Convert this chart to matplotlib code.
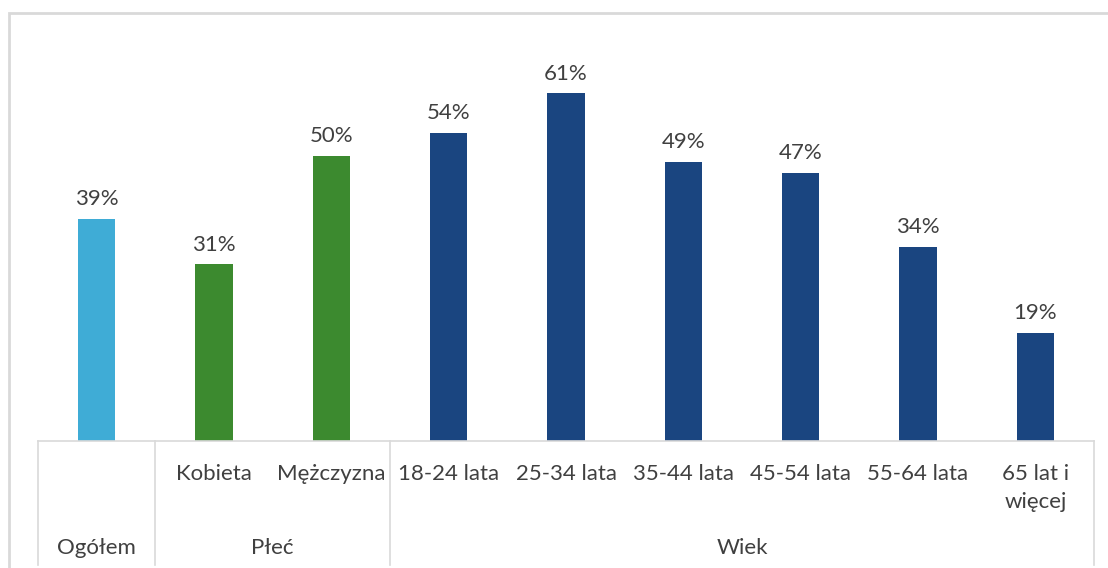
import matplotlib
matplotlib.use("Agg")
import matplotlib.pyplot as plt
from matplotlib.patches import Rectangle

# Share of respondents, by category
categories = ["Ogółem", "Kobieta", "Mężczyzna", "18-24 lata", "25-34 lata",
              "35-44 lata", "45-54 lata", "55-64 lata", "65 lat i\nwięcej"]
values = [39, 31, 50, 54, 61, 49, 47, 34, 19]
groups = ["Ogółem", "Płeć", "Płeć", "Wiek", "Wiek", "Wiek", "Wiek", "Wiek", "Wiek"]

GROUP_COLORS = {"Ogółem": "#3FACD6", "Płeć": "#3C8A2F", "Wiek": "#1A4580"}
TEXT_COLOR = "#404040"
LINE_COLOR = "#D9D9D9"

plt.rcParams["font.family"] = ["Lato", "DejaVu Sans"]
plt.rcParams["font.size"] = 16

W, H = 1108, 568
fig = plt.figure(figsize=(W / 100, H / 100), dpi=100)

# outer chart frame
fig.add_artist(Rectangle((9 / W, -0.1), 1.2, 1 - 13 / H + 0.1,
                         transform=fig.transFigure, fill=False,
                         edgecolor=LINE_COLOR, linewidth=2))

ax_left, ax_right, ax_bottom, ax_top = 38, 1094, 441, 42
ax = fig.add_axes([ax_left / W, 1 - ax_bottom / H,
                   (ax_right - ax_left) / W, (ax_bottom - ax_top) / H])

x = list(range(len(categories)))
colors = [GROUP_COLORS[g] for g in groups]
bars = ax.bar(x, values, width=0.32, color=colors)

for bar, v in zip(bars, values):
    ax.annotate(f"{v}%", (bar.get_x() + bar.get_width() / 2, v),
                xytext=(0, 7), textcoords="offset points",
                ha="center", va="bottom", color=TEXT_COLOR)

ax.set_xlim(-0.5, len(categories) - 0.5)
ax.set_ylim(0, 70)
ax.axis("off")

# multi-level category axis
px = 1 / (ax_bottom - ax_top)
trans = ax.get_xaxis_transform()
ax.plot([-0.5, len(categories) - 0.5], [0, 0], color=LINE_COLOR,
        linewidth=1.2, transform=trans, clip_on=False)

bounds = [-0.5]
for i in range(1, len(groups)):
    if groups[i] != groups[i - 1]:
        bounds.append(i - 0.5)
bounds.append(len(groups) - 0.5)
for b in bounds:
    ax.plot([b, b], [0, -0.31], color=LINE_COLOR, linewidth=1.2,
            transform=trans, clip_on=False)

for i, (cat, g) in enumerate(zip(categories, groups)):
    if cat == g:
        continue
    ax.text(i, -23 * px, cat, ha="center", va="top", color=TEXT_COLOR,
            transform=trans, linespacing=1.5)

for lo, hi in zip(bounds[:-1], bounds[1:]):
    g = groups[int(lo + 0.5)]
    ax.text((lo + hi) / 2, -107 * px, g, ha="center", va="center",
            color=TEXT_COLOR, transform=trans)

fig.savefig("out.png", dpi=100)
